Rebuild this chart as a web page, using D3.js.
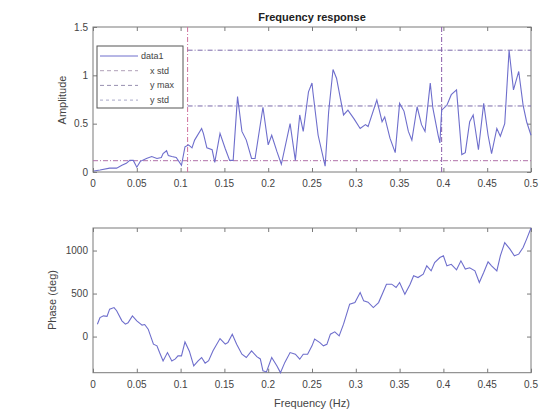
<!DOCTYPE html>
<html>
<head>
<meta charset="utf-8">
<script src="https://cdn.jsdelivr.net/npm/d3@7"></script>
<style>
body { margin: 0; background: #fff; }
text { font-family: "Liberation Sans", Arial, sans-serif; }
</style>
</head>
<body>
<script>
var width = 543
var height = 410

// amplitude trace
var ampFreq = [0.001, 0.008, 0.019, 0.027, 0.033, 0.038, 0.042, 0.046, 0.050, 0.054,
  0.061, 0.067, 0.073, 0.078, 0.080, 0.084, 0.086, 0.090, 0.095, 0.101,
  0.105, 0.109, 0.113, 0.116, 0.124, 0.126, 0.130, 0.136, 0.139, 0.145,
  0.151, 0.156, 0.160, 0.165, 0.170, 0.175, 0.181, 0.185, 0.194, 0.200,
  0.204, 0.210, 0.215, 0.225, 0.231, 0.236, 0.240, 0.246, 0.250, 0.251,
  0.257, 0.263, 0.265, 0.269, 0.274, 0.278, 0.286, 0.291, 0.298, 0.305,
  0.311, 0.314, 0.324, 0.330, 0.333, 0.339, 0.345, 0.350, 0.355, 0.360,
  0.364, 0.370, 0.375, 0.379, 0.385, 0.388, 0.394, 0.396, 0.398, 0.404,
  0.409, 0.415, 0.421, 0.425, 0.430, 0.434, 0.440, 0.446, 0.451, 0.455,
  0.461, 0.465, 0.470, 0.475, 0.480, 0.486, 0.491, 0.495, 0.500]
var ampValues = [0.01, 0.02, 0.04, 0.04, 0.07, 0.09, 0.12, 0.12, 0.05, 0.11,
  0.14, 0.16, 0.14, 0.15, 0.19, 0.22, 0.17, 0.16, 0.15, 0.07,
  0.26, 0.28, 0.25, 0.33, 0.45, 0.40, 0.25, 0.23, 0.10, 0.40,
  0.24, 0.12, 0.12, 0.78, 0.42, 0.33, 0.14, 0.14, 0.67, 0.28,
  0.38, 0.21, 0.08, 0.50, 0.12, 0.59, 0.42, 0.83, 0.92, 0.83,
  0.38, 0.14, 0.06, 0.62, 1.06, 0.97, 0.59, 0.64, 0.55, 0.45,
  0.49, 0.47, 0.745, 0.52, 0.57, 0.35, 0.20, 0.71, 0.63, 0.42,
  0.33, 0.675, 0.49, 0.42, 0.92, 0.66, 0.38, 0.30, 0.64, 0.69,
  0.80, 0.85, 0.18, 0.20, 0.52, 0.59, 0.23, 0.71, 0.38, 0.19,
  0.45, 0.37, 0.50, 1.26, 0.85, 1.04, 0.69, 0.52, 0.38]

// phase trace
var phaseFreq = [0.005, 0.008, 0.012, 0.016, 0.019, 0.024, 0.027, 0.033, 0.037, 0.040,
  0.045, 0.050, 0.056, 0.059, 0.063, 0.069, 0.073, 0.076, 0.080, 0.085,
  0.090, 0.094, 0.097, 0.101, 0.105, 0.110, 0.115, 0.120, 0.124, 0.128,
  0.132, 0.137, 0.145, 0.151, 0.154, 0.159, 0.164, 0.170, 0.175, 0.181,
  0.187, 0.191, 0.194, 0.198, 0.204, 0.210, 0.214, 0.219, 0.225, 0.231,
  0.236, 0.240, 0.245, 0.250, 0.253, 0.259, 0.263, 0.267, 0.271, 0.276,
  0.281, 0.286, 0.293, 0.299, 0.305, 0.309, 0.314, 0.320, 0.326, 0.331,
  0.335, 0.341, 0.346, 0.350, 0.356, 0.362, 0.366, 0.371, 0.377, 0.381,
  0.386, 0.390, 0.396, 0.400, 0.404, 0.409, 0.415, 0.420, 0.425, 0.430,
  0.436, 0.441, 0.446, 0.451, 0.455, 0.461, 0.465, 0.470, 0.476, 0.481,
  0.486, 0.491, 0.495, 0.500]
var phaseValues = [144, 221, 241, 235, 319, 337, 300, 183, 144, 160,
  241, 183, 133, 140, 86, -88, -108, -186, -283, -186,
  -283, -260, -224, -224, -62, -170, -341, -283, -244, -309,
  -280, -166, -23, -88, -70, 28, -88, -205, -244, -166,
  -233, -260, -399, -411, -244, -341, -419, -300, -186, -205,
  -263, -205, -205, -108, -30, -70, -108, -90, 28, 55,
  8, 144, 377, 395, 512, 415, 400, 337, 395, 512,
  609, 609, 570, 628, 493, 609, 706, 686, 726, 822,
  764, 861, 919, 939, 822, 840, 776, 880, 784, 800,
  764, 628, 744, 869, 822, 764, 939, 1093, 1016, 939,
  958, 1035, 1133, 1262]

// reference lines
var xStd = [0.108, 0.398]
var yMax = [1.26]
var yStd = [0.117, 0.683]

var xTicks = [0, 0.05, 0.1, 0.15, 0.2, 0.25, 0.3, 0.35, 0.4, 0.45, 0.5]
var ampTicks = [0, 0.5, 1, 1.5]
var phaseTicks = [0, 500, 1000]
var legendLabels = ["data1", "x std", "y max", "y std"]

var lineColor = "#6e6ecc"
var axisColor = "#7a7a7a"
var textColor = "#444"

var svg = d3.select("body")
  .append("svg")
  .attr("width", width)
  .attr("height", height)

var left = 93, right = 531

var x = d3.scaleLinear().domain([0, 0.5]).range([left, right])
var yAmp = d3.scaleLinear().domain([0, 1.5]).range([172, 27])
var yPhase = d3.scaleLinear().domain([-420, 1262]).range([372.7, 228])

function drawAxes(y, yTicks, yFmt) {
  var top = y.range()[1], bottom = y.range()[0]
  var g = svg.append("g")

  // inner tick marks on every side
  var bAxis = d3.axisBottom(x).tickValues(xTicks).tickSize(-4).tickFormat("")
  var tAxis = d3.axisTop(x).tickValues(xTicks).tickSize(-4).tickFormat("")
  var lAxis = d3.axisLeft(y).tickValues(yTicks).tickSize(-4).tickFormat("")
  var rAxis = d3.axisRight(y).tickValues(yTicks).tickSize(-4).tickFormat("")

  g.append("g").attr("transform", "translate(0," + bottom + ")").call(bAxis)
  g.append("g").attr("transform", "translate(0," + top + ")").call(tAxis)
  g.append("g").attr("transform", "translate(" + left + ",0)").call(lAxis)
  g.append("g").attr("transform", "translate(" + right + ",0)").call(rAxis)
  g.selectAll(".domain").remove()
  g.selectAll(".tick line").attr("stroke", axisColor)

  g.append("rect")
    .attr("x", left).attr("y", top)
    .attr("width", right - left).attr("height", bottom - top)
    .attr("fill", "none").attr("stroke", axisColor).attr("stroke-width", 1)

  g.selectAll("text.xt")
    .data(xTicks)
    .enter()
    .append("text")
    .attr("x", function(d){ return x(d) })
    .attr("y", bottom + 15)
    .attr("text-anchor", "middle")
    .attr("font-size", 10)
    .attr("fill", textColor)
    .text(function(d){ return d3.format("~g")(d) })

  g.selectAll("text.yt")
    .data(yTicks)
    .enter()
    .append("text")
    .attr("x", left - 5)
    .attr("y", function(d){ return y(d) + 3.5 })
    .attr("text-anchor", "end")
    .attr("font-size", 10)
    .attr("fill", textColor)
    .text(yFmt)
}

drawAxes(yAmp, ampTicks, function(d){ return d3.format("~g")(d) })
drawAxes(yPhase, phaseTicks, function(d){ return d })

// reference lines on amplitude plot
svg.selectAll("line.xstd")
  .data(xStd)
  .enter()
  .append("line")
  .attr("x1", function(d){ return x(d) }).attr("x2", function(d){ return x(d) })
  .attr("y1", yAmp(0)).attr("y2", yAmp(1.5))
  .attr("stroke", function(d, i){ return i == 0 ? "#d0709c" : "#8a5aa8" })
  .attr("stroke-dasharray", "5,2,1,2")

svg.selectAll("line.ymax")
  .data(yMax)
  .enter()
  .append("line")
  .attr("x1", x(0.108)).attr("x2", x(0.5))
  .attr("y1", function(d){ return yAmp(d) }).attr("y2", function(d){ return yAmp(d) })
  .attr("stroke", "#7a68a8")
  .attr("stroke-dasharray", "5,2,1,2")

svg.selectAll("line.ystd")
  .data(yStd)
  .enter()
  .append("line")
  .attr("x1", function(d, i){ return i == 0 ? x(0) : x(0.108) }).attr("x2", x(0.5))
  .attr("y1", function(d){ return yAmp(d) }).attr("y2", function(d){ return yAmp(d) })
  .attr("stroke", function(d, i){ return i == 0 ? "#b070a8" : "#7a68a8" })
  .attr("stroke-dasharray", "5,2,1,2")

var ampLine = d3.line()
  .x(function(d, i){ return x(ampFreq[i]) })
  .y(function(d){ return yAmp(d) })

svg.append("path")
  .datum(ampValues)
  .attr("d", ampLine)
  .attr("fill", "none")
  .attr("stroke", lineColor)
  .attr("stroke-width", 1.1)

var phaseLine = d3.line()
  .x(function(d, i){ return x(phaseFreq[i]) })
  .y(function(d){ return yPhase(d) })

svg.append("path")
  .datum(phaseValues)
  .attr("d", phaseLine)
  .attr("fill", "none")
  .attr("stroke", lineColor)
  .attr("stroke-width", 1.1)

// legend
var lg = svg.append("g")
lg.append("rect")
  .attr("x", 97).attr("y", 46)
  .attr("width", 86).attr("height", 62)
  .attr("fill", "#fff").attr("stroke", "#555").attr("stroke-width", 1)

var legendDash = [null, "4,3", "4,3", "3,3"]
var legendColor = [lineColor, "#b0a0b8", "#9890b0", "#a8a8c8"]

lg.selectAll("line.lg")
  .data(legendLabels)
  .enter()
  .append("line")
  .attr("x1", 100).attr("x2", 138)
  .attr("y1", function(d, i){ return 56 + i * 14.7 })
  .attr("y2", function(d, i){ return 56 + i * 14.7 })
  .attr("stroke", function(d, i){ return legendColor[i] })
  .attr("stroke-dasharray", function(d, i){ return legendDash[i] })

lg.selectAll("text.lg")
  .data(legendLabels)
  .enter()
  .append("text")
  .attr("x", function(d, i){ return i == 0 ? 141 : 150 })
  .attr("y", function(d, i){ return 59 + i * 14.7 })
  .attr("font-size", 9)
  .attr("fill", textColor)
  .text(function(d){ return d })

// titles and labels
svg.append("text")
  .attr("x", 312).attr("y", 21)
  .attr("text-anchor", "middle")
  .attr("font-size", 11).attr("font-weight", "bold")
  .attr("fill", "#222")
  .text("Frequency response")

svg.append("text")
  .attr("transform", "translate(66,100) rotate(-90)")
  .attr("text-anchor", "middle")
  .attr("font-size", 11).attr("fill", textColor)
  .text("Amplitude")

svg.append("text")
  .attr("transform", "translate(56,300) rotate(-90)")
  .attr("text-anchor", "middle")
  .attr("font-size", 11).attr("fill", textColor)
  .text("Phase (deg)")

svg.append("text")
  .attr("x", 312).attr("y", 407)
  .attr("text-anchor", "middle")
  .attr("font-size", 11).attr("fill", textColor)
  .text("Frequency (Hz)")
</script>
</body>
</html>
